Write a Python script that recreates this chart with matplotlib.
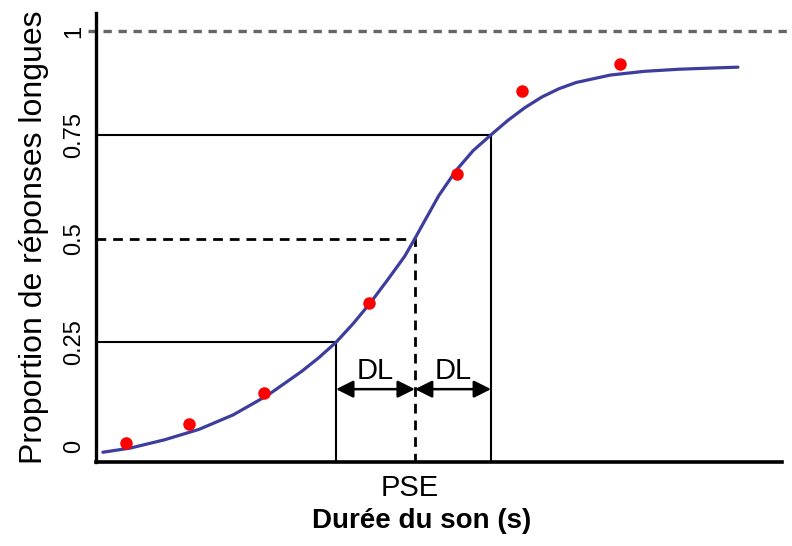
import matplotlib
matplotlib.use('Agg')
import matplotlib.pyplot as plt

plt.rcParams['font.family'] = ['Liberation Sans', 'DejaVu Sans']

# données (durée en unités arbitraires)
duree_points = [0.44, 1.36, 2.45, 3.98, 5.26, 6.21, 7.64]
proportion_points = [0.007, 0.053, 0.128, 0.345, 0.655, 0.855, 0.92]

# courbe psychométrique ajustée
duree_courbe = [0.10, 0.50, 1.00, 1.50, 2.00, 2.50, 3.00, 3.25, 3.50, 3.75, 4.00, 4.25, 4.50, 4.65,
                4.75, 5.00, 5.25, 5.50, 5.76, 6.00, 6.25, 6.50, 6.75, 7.00, 7.50, 8.00, 8.50, 9.00, 9.36]
proportion_courbe = [-0.015, -0.005, 0.015, 0.040, 0.075, 0.122, 0.180, 0.213, 0.25, 0.295, 0.345, 0.400,
                     0.457, 0.50, 0.530, 0.604, 0.664, 0.712, 0.75, 0.784, 0.815, 0.841, 0.861, 0.876,
                     0.894, 0.903, 0.908, 0.911, 0.913]

# seuils : 25 %, PSE (50 %), 75 %
niveaux = [0.25, 0.5, 0.75]
seuils = [3.50, 4.65, 5.76]

y_ticks = [0, 0.25, 0.5, 0.75, 1]
y_labels = ['0', '0.25', '0.5', '0.75', '1']

fig = plt.figure(figsize=(7.92, 5.46), dpi=100)
ax = fig.add_axes([0.1212, 0.1538, 0.866, 0.822])

ax.set_xlim(0, 10)
ax.set_ylim(-0.0386, 1.043)
y_bas = ax.get_ylim()[0]

# ligne pointillée à 1
ax.axhline(1, xmin=-0.012, xmax=1.02, color='#666666', lw=2.4,
           linestyle=(0, (2.5, 2.0)), clip_on=False)

# lignes de seuil
for niveau, seuil in zip(niveaux, seuils):
    if niveau == 0.5:
        ax.plot([0, seuil, seuil], [niveau, niveau, y_bas], color='black', lw=2.0,
                linestyle=(0, (3.5, 2.5)), zorder=2)
    else:
        ax.plot([0, seuil, seuil], [niveau, niveau, y_bas], color='black', lw=1.5, zorder=2)

# courbe et points
ax.plot(duree_courbe, proportion_courbe, color='#3d3d9e', lw=2.3, zorder=3,
        solid_capstyle='round', solid_joinstyle='round')
ax.plot(duree_points, proportion_points, 'o', color='#ff0000', markersize=9,
        markeredgewidth=0, zorder=4)

# flèches DL
y_fleche = 0.137
ax.annotate('', xy=(seuils[1], y_fleche), xytext=(seuils[0], y_fleche),
            arrowprops=dict(arrowstyle='<|-|>', color='black', lw=1.8,
                            mutation_scale=26, shrinkA=0, shrinkB=0))
ax.annotate('', xy=(seuils[2], y_fleche), xytext=(seuils[1], y_fleche),
            arrowprops=dict(arrowstyle='<|-|>', color='black', lw=1.8,
                            mutation_scale=26, shrinkA=0, shrinkB=0))
ax.text((seuils[0] + seuils[1]) / 2, 0.18, 'DL', fontsize=21, ha='center', va='center')
ax.text((seuils[1] + seuils[2]) / 2, 0.18, 'DL', fontsize=21, ha='center', va='center')

ax.text(seuils[1] - 0.08, -0.1, 'PSE', fontsize=21, ha='center', va='center', clip_on=False)

# axes
for cote in ['top', 'right']:
    ax.spines[cote].set_visible(False)
ax.spines['left'].set_linewidth(2.4)
ax.spines['bottom'].set_linewidth(2.6)

ax.set_xticks([])
ax.set_yticks(y_ticks)
ax.set_yticklabels(y_labels, rotation=90, va='center', fontsize=17)
ax.tick_params(axis='y', length=0, pad=8)

ax.set_ylabel('Proportion de réponses longues', fontsize=23, labelpad=10)
fig.text(422 / 792, 0.045, 'Durée du son (s)', fontsize=20, fontweight='bold',
         ha='center', va='center')

fig.savefig('out.png', dpi=100)
